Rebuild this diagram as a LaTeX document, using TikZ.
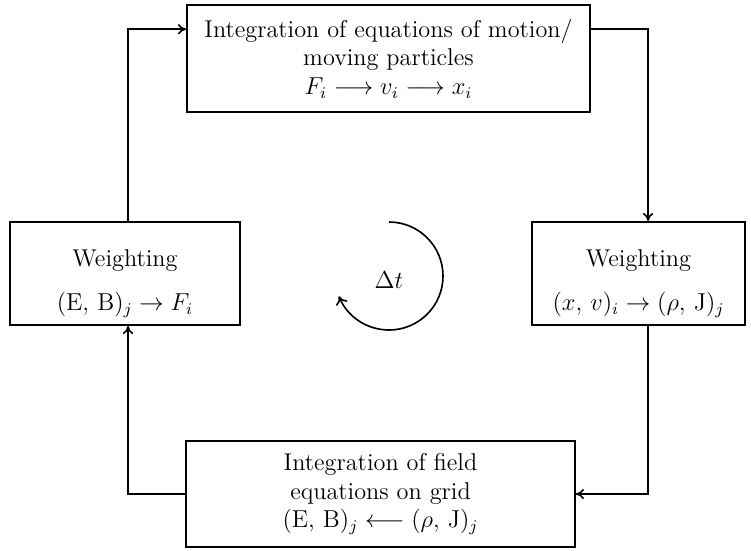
\documentclass[tikz,border=0pt]{standalone}
\usepackage{amsmath}
\usetikzlibrary{calc,arrows.meta}

\begin{document}
\begin{tikzpicture}[
  x=0.49pt, y=-0.49pt,
  stage/.style={draw, thick, align=center, inner sep=2pt},
  flow/.style={thick, -{To[length=4pt,width=5pt]}},
  cycle/.style={thick, -{To[length=4pt,width=6pt]}},
  font=\fontsize{11.9pt}{14pt}\selectfont,
]

% canvas
\useasboundingbox (0,0) rectangle (751,550);

% ---------- the four stages ----------
\node[stage, minimum width=197.5pt, minimum height=52.4pt] (motion) at (388.5,58.5)
  {Integration of equations of motion/\\ moving particles\\ $F_i \longrightarrow v_i \longrightarrow x_i$};
\node[stage, minimum width=104.4pt, minimum height=50.5pt] (weightR) at (638.5,273.5)
  {\rule{0pt}{18pt}Weighting\\[8pt] $(x,\,v)_i \rightarrow (\rho,\,\mathrm{J})_j$};
\node[stage, minimum width=190.6pt, minimum height=52pt] (field) at (380.5,494)
  {Integration of field\\ equations on grid\\ $(\mathrm{E},\,\mathrm{B})_j \longleftarrow (\rho,\,\mathrm{J})_j$};
\node[stage, minimum width=112.7pt, minimum height=50.5pt] (weightL) at (125,273.5)
  {\rule{0pt}{18pt}Weighting\\[8pt] $(\mathrm{E},\,\mathrm{B})_j \rightarrow F_i$};

% ---------- loop connectors ----------
\draw[flow] ([xshift=1.5pt]weightL.north) |- ($(motion.north west)!0.23!(motion.south west)$);
\draw[flow] ($(motion.north east)!0.23!(motion.south east)$) -| ([xshift=4.7pt]weightR.north);
\draw[flow] ([xshift=4.7pt]weightR.south) |- (field.east);
\draw[flow] (field.west) -| ([xshift=1.5pt]weightL.south);

% ---------- time step ----------
\node[font=\fontsize{13pt}{15pt}\selectfont] (dt) at (389,280) {$\Delta t$};
\draw[cycle] ($(dt)+(0,-58)$) arc[start angle=-90, end angle=158, radius=54];

\end{tikzpicture}
\end{document}
